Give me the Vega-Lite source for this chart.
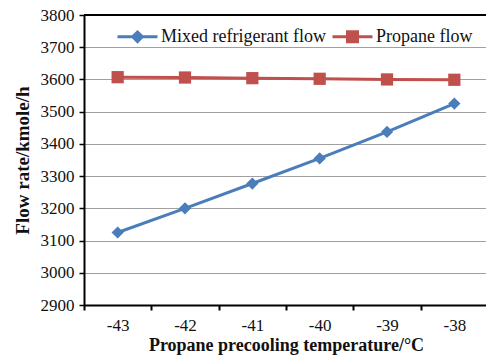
{
  "$schema": "https://vega.github.io/schema/vega-lite/v6.json",
  "width": 404,
  "height": 290,
  "autosize": "none",
  "padding": {"left": 84, "top": 15, "right": 0, "bottom": 55},
  "background": "white",
  "config": {
    "font": "Liberation Serif",
    "view": {"stroke": null},
    "axis": {"labelFont": "Liberation Serif", "titleFont": "Liberation Serif", "labelColor": "#111", "titleColor": "#111"}
  },
  "data": {"values": [
    {"t": "-43", "series": "Mixed refrigerant flow", "v": 3125},
    {"t": "-42", "series": "Mixed refrigerant flow", "v": 3200},
    {"t": "-41", "series": "Mixed refrigerant flow", "v": 3277},
    {"t": "-40", "series": "Mixed refrigerant flow", "v": 3355},
    {"t": "-39", "series": "Mixed refrigerant flow", "v": 3437},
    {"t": "-38", "series": "Mixed refrigerant flow", "v": 3525},
    {"t": "-43", "series": "Propane flow", "v": 3607},
    {"t": "-42", "series": "Propane flow", "v": 3606},
    {"t": "-41", "series": "Propane flow", "v": 3604},
    {"t": "-40", "series": "Propane flow", "v": 3602},
    {"t": "-39", "series": "Propane flow", "v": 3600},
    {"t": "-38", "series": "Propane flow", "v": 3599}
  ]},
  "encoding": {
    "x": {
      "field": "t", "type": "ordinal", "sort": null, "bandPosition": 0.5,
      "scale": {"type": "band", "paddingInner": 0, "paddingOuter": 0, "domain": ["-43", "-42", "-41", "-40", "-39", "-38"]},
      "axis": {
        "title": "Propane precooling temperature/\u00b0C", "titleFontSize": 18, "titleFontWeight": "bold", "titlePadding": 3,
        "labelAngle": 0, "labelFontSize": 17, "labelPadding": 7,
        "tickBand": "extent", "tickColor": "black", "tickSize": 5, "tickWidth": 2,
        "domainColor": "black", "domainWidth": 2, "grid": false
      }
    },
    "y": {
      "field": "v", "type": "quantitative",
      "scale": {"domain": [2900, 3800], "nice": false, "zero": false},
      "axis": {
        "title": "Flow rate/kmole/h", "titleFontSize": 19, "titleFontWeight": "bold", "titlePadding": 8,
        "values": [2900, 3000, 3100, 3200, 3300, 3400, 3500, 3600, 3700, 3800], "format": "d",
        "labelFontSize": 17, "labelPadding": 5, "tickColor": "black", "tickSize": 5, "tickWidth": 1.5,
        "domainColor": "black", "domainWidth": 2, "gridColor": "#a0a0a0", "gridWidth": 1
      }
    },
    "color": {
      "field": "series", "type": "nominal",
      "scale": {"domain": ["Mixed refrigerant flow", "Propane flow"], "range": ["#4a7ebb", "#c0504d"]},
      "legend": {
        "title": null, "orient": "none", "legendX": 32, "legendY": 0, "direction": "horizontal",
        "labelFontSize": 18, "labelFont": "Liberation Serif", "labelColor": "#111", "labelLimit": 0, "columnPadding": 0, "labelOffset": 2,
        "symbolSize": 1600, "symbolStrokeWidth": 3,
        "encode": {"symbols": {"update": {
          "shape": {"signal": "datum.value === 'Propane flow' ? 'M-1,0H1M-0.25,-0.25H0.25V0.25H-0.25Z' : 'M-1,0H1M0,-0.24L0.24,0L0,0.24L-0.24,0Z'"},
          "fill": {"scale": "color", "field": "value"},
          "stroke": {"scale": "color", "field": "value"},
          "strokeWidth": {"value": 3},
          "opacity": {"value": 1}
        }}}
      }
    }
  },
  "layer": [
    {"mark": {"type": "rule", "color": "black", "strokeWidth": 2}, "encoding": {"y": {"datum": 3800}, "x": null, "color": null}},
    {"mark": {"type": "line", "strokeWidth": 3}},
    {"transform": [{"filter": "datum.series === 'Mixed refrigerant flow'"}],
     "mark": {"type": "point", "shape": "diamond", "filled": true, "opacity": 1, "size": 150}},
    {"transform": [{"filter": "datum.series === 'Propane flow'"}],
     "mark": {"type": "point", "shape": "square", "filled": true, "opacity": 1, "size": 150}}
  ]
}
